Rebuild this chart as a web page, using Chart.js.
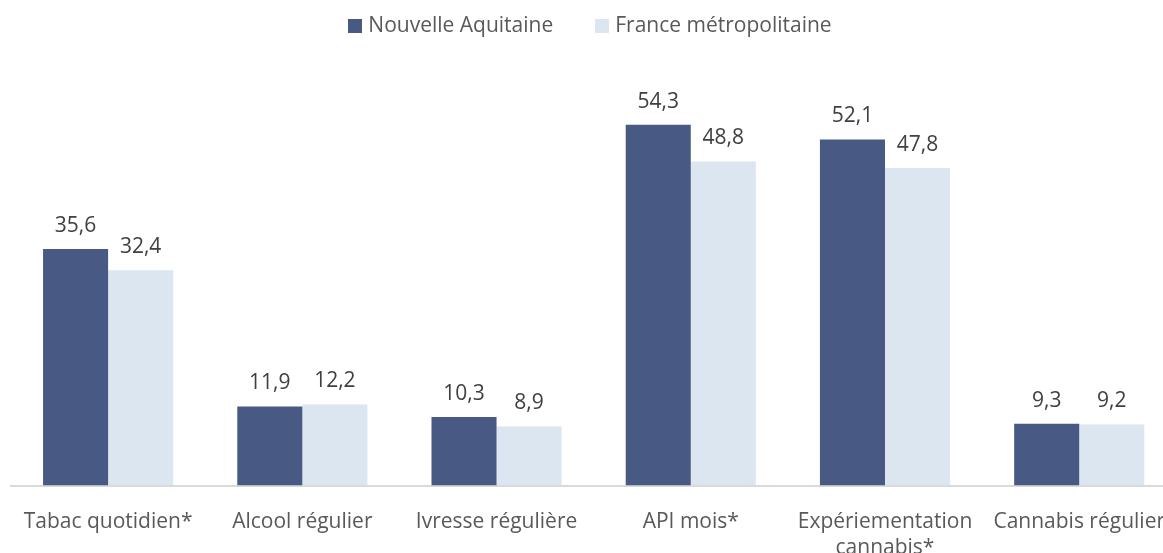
<!DOCTYPE html>
<html>
<head>
<meta charset="utf-8">
<script src="https://cdn.jsdelivr.net/npm/chart.js@4.4.0/dist/chart.umd.min.js"></script>
<style>
  html, body { margin: 0; padding: 0; background: #fff; overflow: hidden; }
  #wrap { width: 1163px; height: 553px; overflow: hidden; position: relative; }
  #box { width: 1180px; height: 576px; position: absolute; left: 0; top: 0; }
  #legend {
    position: absolute; left: 0; top: 10px; width: 1180px;
    text-align: center; font: 21px 'Open Sans', 'Noto Sans', sans-serif;
    color: #595959; line-height: 28px; z-index: 2;
  }
  #legend span.item { display: inline-block; margin: 0 21px; }
  #legend span.sw { display: inline-block; width: 14px; height: 14px; margin-right: 6px; vertical-align: -1px; }
</style>
</head>
<body>
<div id="wrap">
  <div id="legend"></div>
  <div id="box"><canvas id="barChart"></canvas></div>
</div>
<script>
const categories = [
    'Tabac quotidien*',
    'Alcool régulier',
    'Ivresse régulière',
    'API mois*',
    ['Expériementation', 'cannabis*'],
    'Cannabis régulier'
]
const seriesNames = ['Nouvelle Aquitaine', 'France métropolitaine']
const nouvelleAquitaine = [35.6, 11.9, 10.3, 54.3, 52.1, 9.3]
const franceMetro = [32.4, 12.2, 8.9, 48.8, 47.8, 9.2]
const barColors = ['#485a84', '#dce6f1']

const fontFamily = "'Open Sans', 'Noto Sans', sans-serif"

// legend drawn as html so its spacing matches the original
document.getElementById('legend').innerHTML = seriesNames
    .map((name, i) => `<span class="item"><span class="sw" style="background:${barColors[i]}"></span>${name}</span>`)
    .join('')

// values above the bars, with a french decimal comma
const valueLabels = {
    id: 'valueLabels',
    afterDatasetsDraw: (chart) => {
        const ctx = chart.ctx
        ctx.save()
        ctx.font = `21px ${fontFamily}`
        ctx.fillStyle = '#404040'
        ctx.textAlign = 'center'
        ctx.textBaseline = 'alphabetic'
        chart.data.datasets.forEach((ds, i) => {
            chart.getDatasetMeta(i).data.forEach((bar, j) => {
                const txt = ds.data[j].toFixed(1).replace('.', ',')
                ctx.fillText(txt, bar.x, bar.y - 17)
            })
        })
        ctx.restore()
    }
}

new Chart("barChart", {
    type: "bar",
    data: {
        labels: categories,
        datasets: [{
            label: seriesNames[0],
            backgroundColor: barColors[0],
            data: nouvelleAquitaine
        }, {
            label: seriesNames[1],
            backgroundColor: barColors[1],
            data: franceMetro
        }]
    },
    plugins: [valueLabels],
    options: {
        responsive: true,
        maintainAspectRatio: false,
        animation: false,
        layout: {
            padding: { left: 11, right: 0, top: 87, bottom: 0 }
        },
        datasets: {
            bar: { categoryPercentage: 0.67, barPercentage: 1 }
        },
        plugins: {
            legend: { display: false },
            tooltip: { enabled: false }
        },
        scales: {
            x: {
                grid: { display: false },
                border: { color: '#d9d9d9', width: 2 },
                ticks: {
                    color: '#595959',
                    padding: 15,
                    maxRotation: 0,
                    autoSkip: false,
                    font: { family: fontFamily, size: 21, lineHeight: 1.25 }
                }
            },
            y: {
                display: false,
                min: 0,
                max: 60
            }
        }
    }
});
</script>
</body>
</html>
